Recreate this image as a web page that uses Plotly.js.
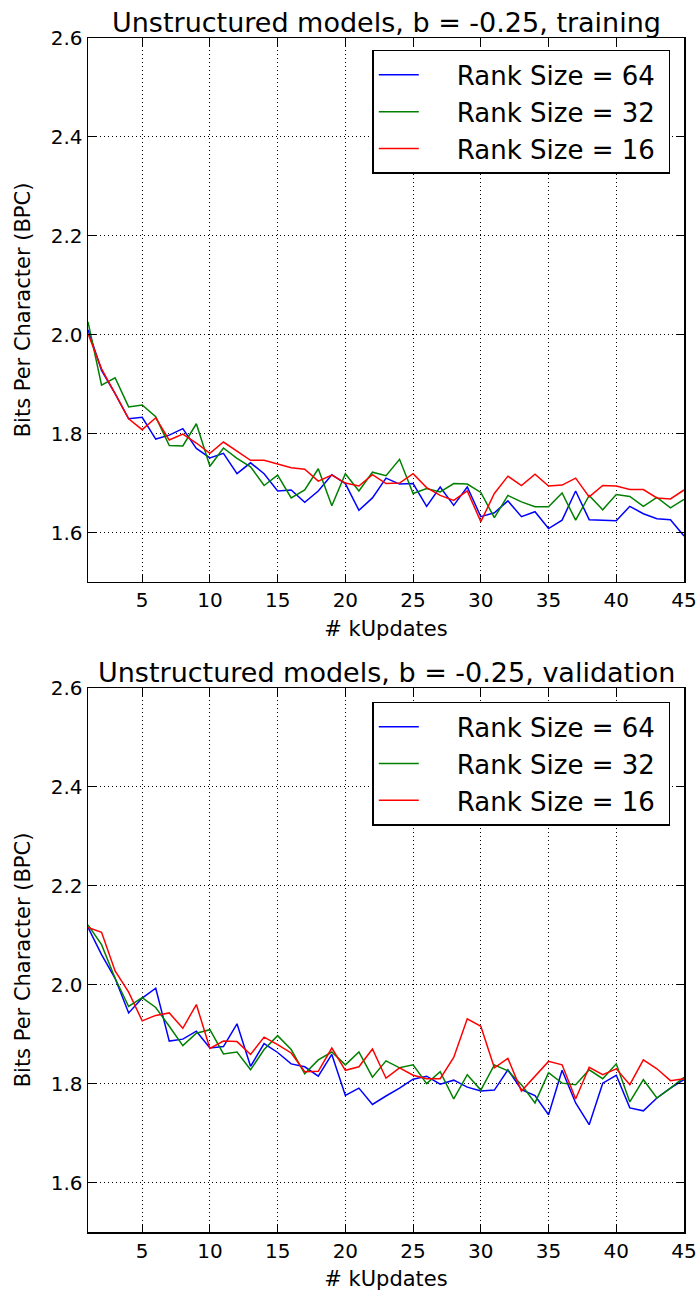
<!DOCTYPE html>
<html>
<head>
<meta charset="utf-8">
<script src="https://cdn.plot.ly/plotly-3.0.1.min.js"></script>
<style>html,body{margin:0;padding:0;background:#fff;}#chart{width:699px;height:1299px;}</style>
</head>
<body>
<div id="chart"></div>
<script>
const kUpdates = [1,2,3,4,5,6,7,8,9,10,11,12,13,14,15,16,17,18,19,20,21,22,23,24,25,26,27,28,29,30,31,32,33,34,35,36,37,38,39,40,41,42,43,44,45];

const trainRank64 = [2.01,1.928,1.881,1.830,1.833,1.789,1.797,1.810,1.770,1.751,1.760,1.719,1.741,1.719,1.684,1.686,1.661,1.684,1.717,1.699,1.645,1.670,1.710,1.698,1.699,1.653,1.692,1.655,1.692,1.632,1.640,1.664,1.632,1.642,1.608,1.625,1.684,1.626,1.625,1.624,1.653,1.638,1.628,1.626,1.593];
const trainRank32 = [2.026,1.898,1.913,1.854,1.858,1.834,1.776,1.775,1.820,1.734,1.771,1.750,1.733,1.695,1.716,1.670,1.686,1.729,1.654,1.719,1.684,1.722,1.715,1.748,1.679,1.689,1.682,1.699,1.698,1.681,1.630,1.675,1.662,1.652,1.652,1.680,1.625,1.675,1.646,1.677,1.673,1.653,1.671,1.650,1.667];
const trainRank16 = [2.002,1.931,1.881,1.830,1.808,1.832,1.787,1.799,1.781,1.760,1.783,1.765,1.746,1.746,1.739,1.731,1.728,1.704,1.716,1.700,1.694,1.717,1.699,1.700,1.719,1.691,1.675,1.665,1.684,1.622,1.679,1.714,1.695,1.718,1.694,1.696,1.710,1.672,1.695,1.694,1.687,1.687,1.670,1.668,1.686];

const validRank64 = [2.116,2.061,2.013,1.943,1.973,1.993,1.886,1.890,1.906,1.872,1.875,1.921,1.835,1.881,1.863,1.840,1.834,1.815,1.859,1.776,1.791,1.758,1.775,1.791,1.809,1.815,1.799,1.807,1.793,1.785,1.787,1.828,1.788,1.776,1.737,1.827,1.761,1.717,1.801,1.817,1.751,1.745,1.771,1.791,1.808];
const validRank32 = [2.121,2.081,2.013,1.956,1.974,1.954,1.916,1.877,1.902,1.909,1.860,1.864,1.828,1.869,1.897,1.869,1.820,1.848,1.864,1.838,1.864,1.813,1.846,1.832,1.838,1.800,1.824,1.769,1.818,1.787,1.838,1.826,1.798,1.761,1.822,1.801,1.798,1.828,1.810,1.840,1.763,1.808,1.771,1.791,1.813];
const validRank16 = [2.116,2.106,2.028,1.985,1.927,1.938,1.943,1.912,1.960,1.871,1.886,1.885,1.859,1.894,1.879,1.862,1.824,1.825,1.872,1.827,1.834,1.870,1.811,1.832,1.817,1.810,1.810,1.853,1.931,1.916,1.832,1.851,1.785,1.815,1.845,1.838,1.769,1.833,1.818,1.830,1.798,1.848,1.830,1.806,1.810];

const seriesNames = ["Rank Size = 64","Rank Size = 32","Rank Size = 16"];
const seriesColors = ["#0000ff","#008000","#ff0000"];
const xTicks = [5,10,15,20,25,30,35,40,45];
const yTicks = [1.6,1.8,2.0,2.2,2.4,2.6];
const yTickText = ["1.6","1.8","2.0","2.2","2.4","2.6"];
const titles = ["Unstructured models, b = -0.25, training","Unstructured models, b = -0.25, validation"];

const FONT = "'DejaVu Sans', sans-serif";
const PAD = "\u00a0\u00a0\u00a0\u00a0";
const TAIL = "\u00a0";

const trainSets = [trainRank64, trainRank32, trainRank16];
const validSets = [validRank64, validRank32, validRank16];
const traces = [];
trainSets.forEach((ys,i)=>traces.push({x:kUpdates,y:ys,type:'scatter',mode:'lines',name:PAD+seriesNames[i]+TAIL,
  line:{color:seriesColors[i],width:1.5},xaxis:'x',yaxis:'y',legend:'legend',legendgroup:'t'+i}));
validSets.forEach((ys,i)=>traces.push({x:kUpdates,y:ys,type:'scatter',mode:'lines',name:PAD+seriesNames[i]+TAIL,
  line:{color:seriesColors[i],width:1.5},xaxis:'x2',yaxis:'y2',legend:'legend2',legendgroup:'v'+i}));

function xa(anchor){return {range:[1,45],tickvals:xTicks,ticktext:xTicks.map(String),ticks:'inside',ticklen:8,tickwidth:1,
  tickcolor:'#000',showline:true,linecolor:'#000',linewidth:1.5,mirror:'ticks',showgrid:true,gridcolor:'#000',griddash:'1px,3px',gridwidth:1,
  zeroline:false,anchor:anchor,tickfont:{family:FONT,size:20,color:'#000'},
  title:{text:'# kUpdates',font:{family:FONT,size:21,color:'#000'},standoff:10}};}
function ya(anchor,domain){return {range:[1.5,2.6],domain:domain,tickvals:yTicks,ticktext:yTickText,ticks:'inside',ticklen:8,tickwidth:1,
  tickcolor:'#000',showline:true,linecolor:'#000',linewidth:1.5,mirror:'ticks',showgrid:true,gridcolor:'#000',griddash:'1px,3px',gridwidth:1,
  zeroline:false,anchor:anchor,tickfont:{family:FONT,size:20,color:'#000'},
  title:{text:'Bits Per Character (BPC)',font:{family:FONT,size:21,color:'#000'},standoff:14}};}

const legendCommon = {xref:'paper',yref:'paper',xanchor:'right',yanchor:'top',bgcolor:'#fff',bordercolor:'#000',borderwidth:1.5,
  font:{family:FONT,size:26,color:'#000'},traceorder:'grouped',tracegroupgap:0,itemwidth:40};

const layout = {
  width:699,height:1299,paper_bgcolor:'#fff',plot_bgcolor:'#fff',showlegend:true,
  margin:{l:88,r:15,t:38,b:67},
  xaxis:Object.assign(xa('y'),{domain:[0,1]}),
  yaxis:ya('x',[0.5444,1]),
  xaxis2:Object.assign(xa('y2'),{domain:[0,1]}),
  yaxis2:ya('x2',[0,0.4556]),
  legend:Object.assign({x:0.977,y:0.99},legendCommon),
  legend2:Object.assign({x:0.977,y:0.444},legendCommon),
  annotations:[
    {text:titles[0],xref:'paper',yref:'paper',x:0.5,y:1.0134,xanchor:'center',yanchor:'middle',showarrow:false,font:{family:FONT,size:27,color:'#000'}},
    {text:titles[1],xref:'paper',yref:'paper',x:0.5,y:0.469,xanchor:'center',yanchor:'middle',showarrow:false,font:{family:FONT,size:27,color:'#000'}}
  ]
};
Plotly.newPlot('chart',traces,layout,{displayModeBar:false,staticPlot:true});
</script>
</body>
</html>
